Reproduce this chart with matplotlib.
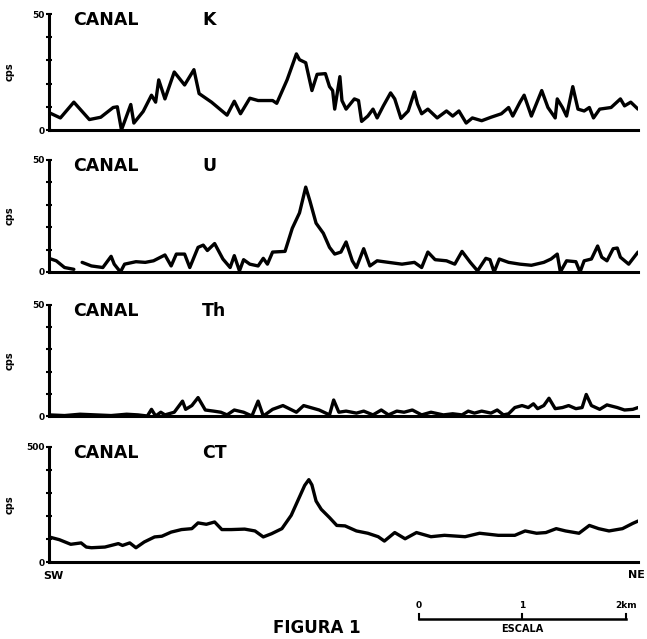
import numpy as np
import matplotlib
matplotlib.use("Agg")
import matplotlib.pyplot as plt
import matplotlib.transforms as mtransforms

plt.rcParams['font.family'] = ['DejaVu Sans']

# distancia a lo largo del perfil (km), cps por canal
k_x = [0.00, 0.11, 0.24, 0.39, 0.50, 0.62, 0.66, 0.70, 0.79, 0.82, 0.91, 0.99, 1.03, 1.06,
       1.12, 1.21, 1.31, 1.40, 1.45, 1.57, 1.72, 1.79, 1.85, 1.94, 2.02, 2.16, 2.20, 2.30,
       2.39, 2.42, 2.48, 2.54, 2.59, 2.67, 2.71, 2.74, 2.76, 2.81, 2.83, 2.87, 2.95, 2.99,
       3.02, 3.08, 3.13, 3.17, 3.23, 3.30, 3.34, 3.40, 3.47, 3.53, 3.56, 3.60, 3.66, 3.75,
       3.84, 3.90, 3.96, 4.03, 4.09, 4.18, 4.27, 4.37, 4.44, 4.48, 4.55, 4.59, 4.66, 4.76,
       4.82, 4.89, 4.91, 4.96, 5.00, 5.06, 5.11, 5.17, 5.22, 5.26, 5.32, 5.43, 5.52, 5.56,
       5.62, 5.69]
k_cps = [7.5, 5.2, 12, 4.5, 5.5, 9.7, 10, 0, 11, 3, 8, 15, 12, 21.6,
         13.4, 25, 19.4, 26, 15.7, 12, 6.4, 12.4, 7, 13.7, 12.7, 12.7, 11.5, 21.6,
         32.8, 30.3, 29, 17, 24, 24.3, 18.7, 17, 9, 23, 12.7, 9, 13.4, 12.7,
         3.7, 6, 9, 5.2, 10.4, 16, 13.4, 5, 8.2, 16.4, 11.2, 7, 9, 5.2,
         8.2, 6, 8.2, 3, 5.2, 4, 5.5, 7, 9.7, 6, 12, 15, 6, 17,
         9.7, 5.2, 13.4, 9.7, 6, 18.7, 9, 8.2, 9.7, 5.2, 9, 9.7, 13.4, 10.4,
         12, 9]

u_x = [0.00, 0.07, 0.15, 0.24, 0.28, 0.32, 0.41, 0.52, 0.60, 0.63, 0.69, 0.73, 0.84, 0.93,
       1.01, 1.12, 1.18, 1.23, 1.31, 1.36, 1.44, 1.49, 1.53, 1.60, 1.68, 1.75, 1.79, 1.84,
       1.88, 1.94, 2.02, 2.07, 2.11, 2.16, 2.28, 2.35, 2.42, 2.48, 2.52, 2.58, 2.65, 2.71,
       2.76, 2.82, 2.87, 2.93, 2.97, 3.04, 3.10, 3.17, 3.28, 3.41, 3.53, 3.60, 3.66, 3.73,
       3.84, 3.92, 3.99, 4.07, 4.14, 4.22, 4.26, 4.30, 4.35, 4.44, 4.55, 4.66, 4.78, 4.85,
       4.91, 4.94, 5.00, 5.09, 5.13, 5.17, 5.24, 5.30, 5.34, 5.39, 5.45, 5.49, 5.52, 5.60,
       5.69]
u_cps = [6.1, 5, 2, 1.2, np.nan, 4.3, 2.7, 2, 7, 3.5, 0, 3.5, 4.6, 4.3,
         5, 7.6, 2.7, 8, 8, 2, 11, 12, 9.6, 12.7, 5.8, 2, 7.3, 0.5,
         5.5, 3.5, 2.7, 6.1, 3.5, 8.9, 9.2, 19.5, 26.4, 37.9, 31.8, 21.8, 17.3, 11,
         8, 8.9, 13.4, 5, 2, 10.4, 2.7, 5, 4.3, 3.5, 4.3, 2, 8.9, 5.5,
         5, 3.5, 9.2, 4.3, 0.5, 6.1, 5.5, 0, 5.8, 4.3, 3.5, 3, 4.3, 5.8,
         8, 0, 5, 4.6, 0, 5, 5.8, 11.6, 6.6, 5, 10.4, 10.7, 6.6, 3.5,
         8.9]

th_x = [0.00, 0.15, 0.30, 0.45, 0.60, 0.75, 0.86, 0.95, 0.99, 1.03, 1.08, 1.12, 1.21, 1.29,
        1.32, 1.38, 1.44, 1.51, 1.59, 1.66, 1.72, 1.79, 1.88, 1.96, 2.02, 2.07, 2.16, 2.26,
        2.39, 2.46, 2.61, 2.71, 2.75, 2.80, 2.87, 2.97, 3.04, 3.13, 3.21, 3.28, 3.36, 3.43,
        3.51, 3.60, 3.69, 3.81, 3.90, 3.99, 4.05, 4.11, 4.18, 4.27, 4.33, 4.39, 4.44, 4.50,
        4.57, 4.63, 4.68, 4.72, 4.78, 4.83, 4.89, 4.96, 5.02, 5.09, 5.15, 5.19, 5.24, 5.32,
        5.39, 5.49, 5.56, 5.64, 5.69]
th_cps = [0.5, 0.2, 0.8, 0.5, 0.2, 0.8, 0.5, 0, 3, 0, 1.7, 0.5, 1.7, 6.7,
          3, 4.7, 8.3, 2.7, 2.2, 1.7, 0.5, 2.7, 1.7, 0, 6.7, 0, 3, 4.7,
          1.7, 4.7, 2.7, 0.5, 7.2, 1.7, 2.2, 1.3, 2.2, 0.5, 2.7, 0.5, 2.2, 1.7,
          2.7, 0.5, 1.7, 0.5, 1, 0.5, 2.2, 1.3, 2.2, 1.3, 2.7, 0.5, 1, 3.8,
          4.7, 3.8, 5.5, 3.3, 4.7, 8, 3.3, 3.8, 4.7, 3.3, 3.8, 9.7, 4.7, 3,
          5, 3.8, 2.7, 3, 3.8]

ct_x = [0.00, 0.10, 0.21, 0.31, 0.36, 0.41, 0.54, 0.67, 0.71, 0.78, 0.84, 0.92, 1.02, 1.09,
        1.18, 1.28, 1.38, 1.44, 1.52, 1.60, 1.67, 1.76, 1.89, 1.99, 2.07, 2.15, 2.25, 2.34,
        2.42, 2.47, 2.51, 2.54, 2.58, 2.63, 2.71, 2.78, 2.86, 2.97, 3.08, 3.18, 3.24, 3.34,
        3.44, 3.55, 3.69, 3.82, 4.02, 4.16, 4.34, 4.50, 4.60, 4.71, 4.80, 4.90, 4.99, 5.12,
        5.22, 5.31, 5.41, 5.54, 5.64, 5.69]
ct_cps = [109, 97, 77, 83, 65, 62, 65, 80, 72, 83, 62, 87, 109, 112,
          130, 141, 145, 170, 164, 174, 141, 141, 143, 135, 109, 123, 145, 203,
          283, 333, 358, 335, 265, 229, 193, 159, 157, 135, 125, 110, 91, 128,
          101, 128, 110, 116, 110, 125, 116, 116, 135, 125, 128, 145, 135, 125,
          159, 145, 135, 145, 168, 178]

canales = ["K", "U", "Th", "CT"]
series_x = [k_x, u_x, th_x, ct_x]
series_y = [k_cps, u_cps, th_cps, ct_cps]
y_max = [50, 50, 50, 500]
y_top_label = ["50", "50", "50", "500"]

W, H = 647, 639
fig = plt.figure(figsize=(W / 100, H / 100), dpi=100)

# posiciones en pixeles (arriba, abajo) de cada panel
panel_px = [(14, 130), (160, 272), (305, 416), (447, 562)]
left_px, right_px = 49, 638
x_total = 5.69

axes = []
for i, (top, bot) in enumerate(panel_px):
    ax = fig.add_axes([left_px / W, 1 - bot / H, (right_px - left_px) / W, (bot - top) / H])
    ax.plot(series_x[i], series_y[i], color='black', lw=2.4, solid_joinstyle='round',
            solid_capstyle='round')
    ax.set_xlim(0, x_total)
    ax.set_ylim(0, y_max[i])
    for s in ['top', 'right']:
        ax.spines[s].set_visible(False)
    ax.spines['left'].set_linewidth(2.2)
    ax.spines['bottom'].set_linewidth(2.2)
    ax.set_xticks([])
    ticks = np.linspace(0, y_max[i], 6)
    ax.set_yticks(ticks)
    ax.set_yticklabels(["0", "", "", "", "", y_top_label[i]], fontsize=6.5, fontweight='bold')
    ax.tick_params(axis='y', direction='inout', length=4, width=1.5, pad=1)
    ax.set_ylabel("cps", fontsize=7, fontweight='bold')
    ax.yaxis.set_label_coords(-0.058, 0.5)
    ax.text((73 - left_px) / (right_px - left_px), 0.95, "CANAL", transform=ax.transAxes,
            fontsize=12.5, fontweight='bold', va='center', ha='left')
    ax.text((202 - left_px) / (right_px - left_px), 0.95, canales[i], transform=ax.transAxes,
            fontsize=12.5, fontweight='bold', va='center', ha='left')
    axes.append(ax)

ax = axes[-1]
h_ct = panel_px[3][1] - panel_px[3][0]
trans = mtransforms.blended_transform_factory(ax.transData, ax.transAxes)

ax.text(-0.01, -0.12, "SW", transform=ax.transAxes, fontsize=8, fontweight='bold',
        ha='left', va='center')
fig.text(1 - 2 / W, 1 - 575 / H, "NE", fontsize=8, fontweight='bold',
         ha='right', va='center')

# barra de escala
escala_km = [0, 1, 2]
escala_lbl = ["0", "1", "2km"]
x0 = 3.57
y_bar = (562 - 619) / h_ct
ax.plot([x0, x0 + 2], [y_bar, y_bar], color='black', lw=1.8, transform=trans, clip_on=False)
for km, lbl in zip(escala_km, escala_lbl):
    ax.plot([x0 + km, x0 + km], [y_bar, y_bar + 0.04], color='black', lw=1.5,
            transform=trans, clip_on=False)
    ax.text(x0 + km, (562 - 606) / h_ct, lbl, transform=trans, fontsize=6.5,
            fontweight='bold', ha='center', va='center')
ax.text(x0 + 1, (562 - 629) / h_ct, "ESCALA", transform=trans, fontsize=7,
        fontweight='bold', ha='center', va='center')

fig.text(0.49, 2 / H, "FIGURA 1", fontsize=12, fontweight='bold',
         ha='center', va='bottom')

fig.savefig("out.png", dpi=100)
